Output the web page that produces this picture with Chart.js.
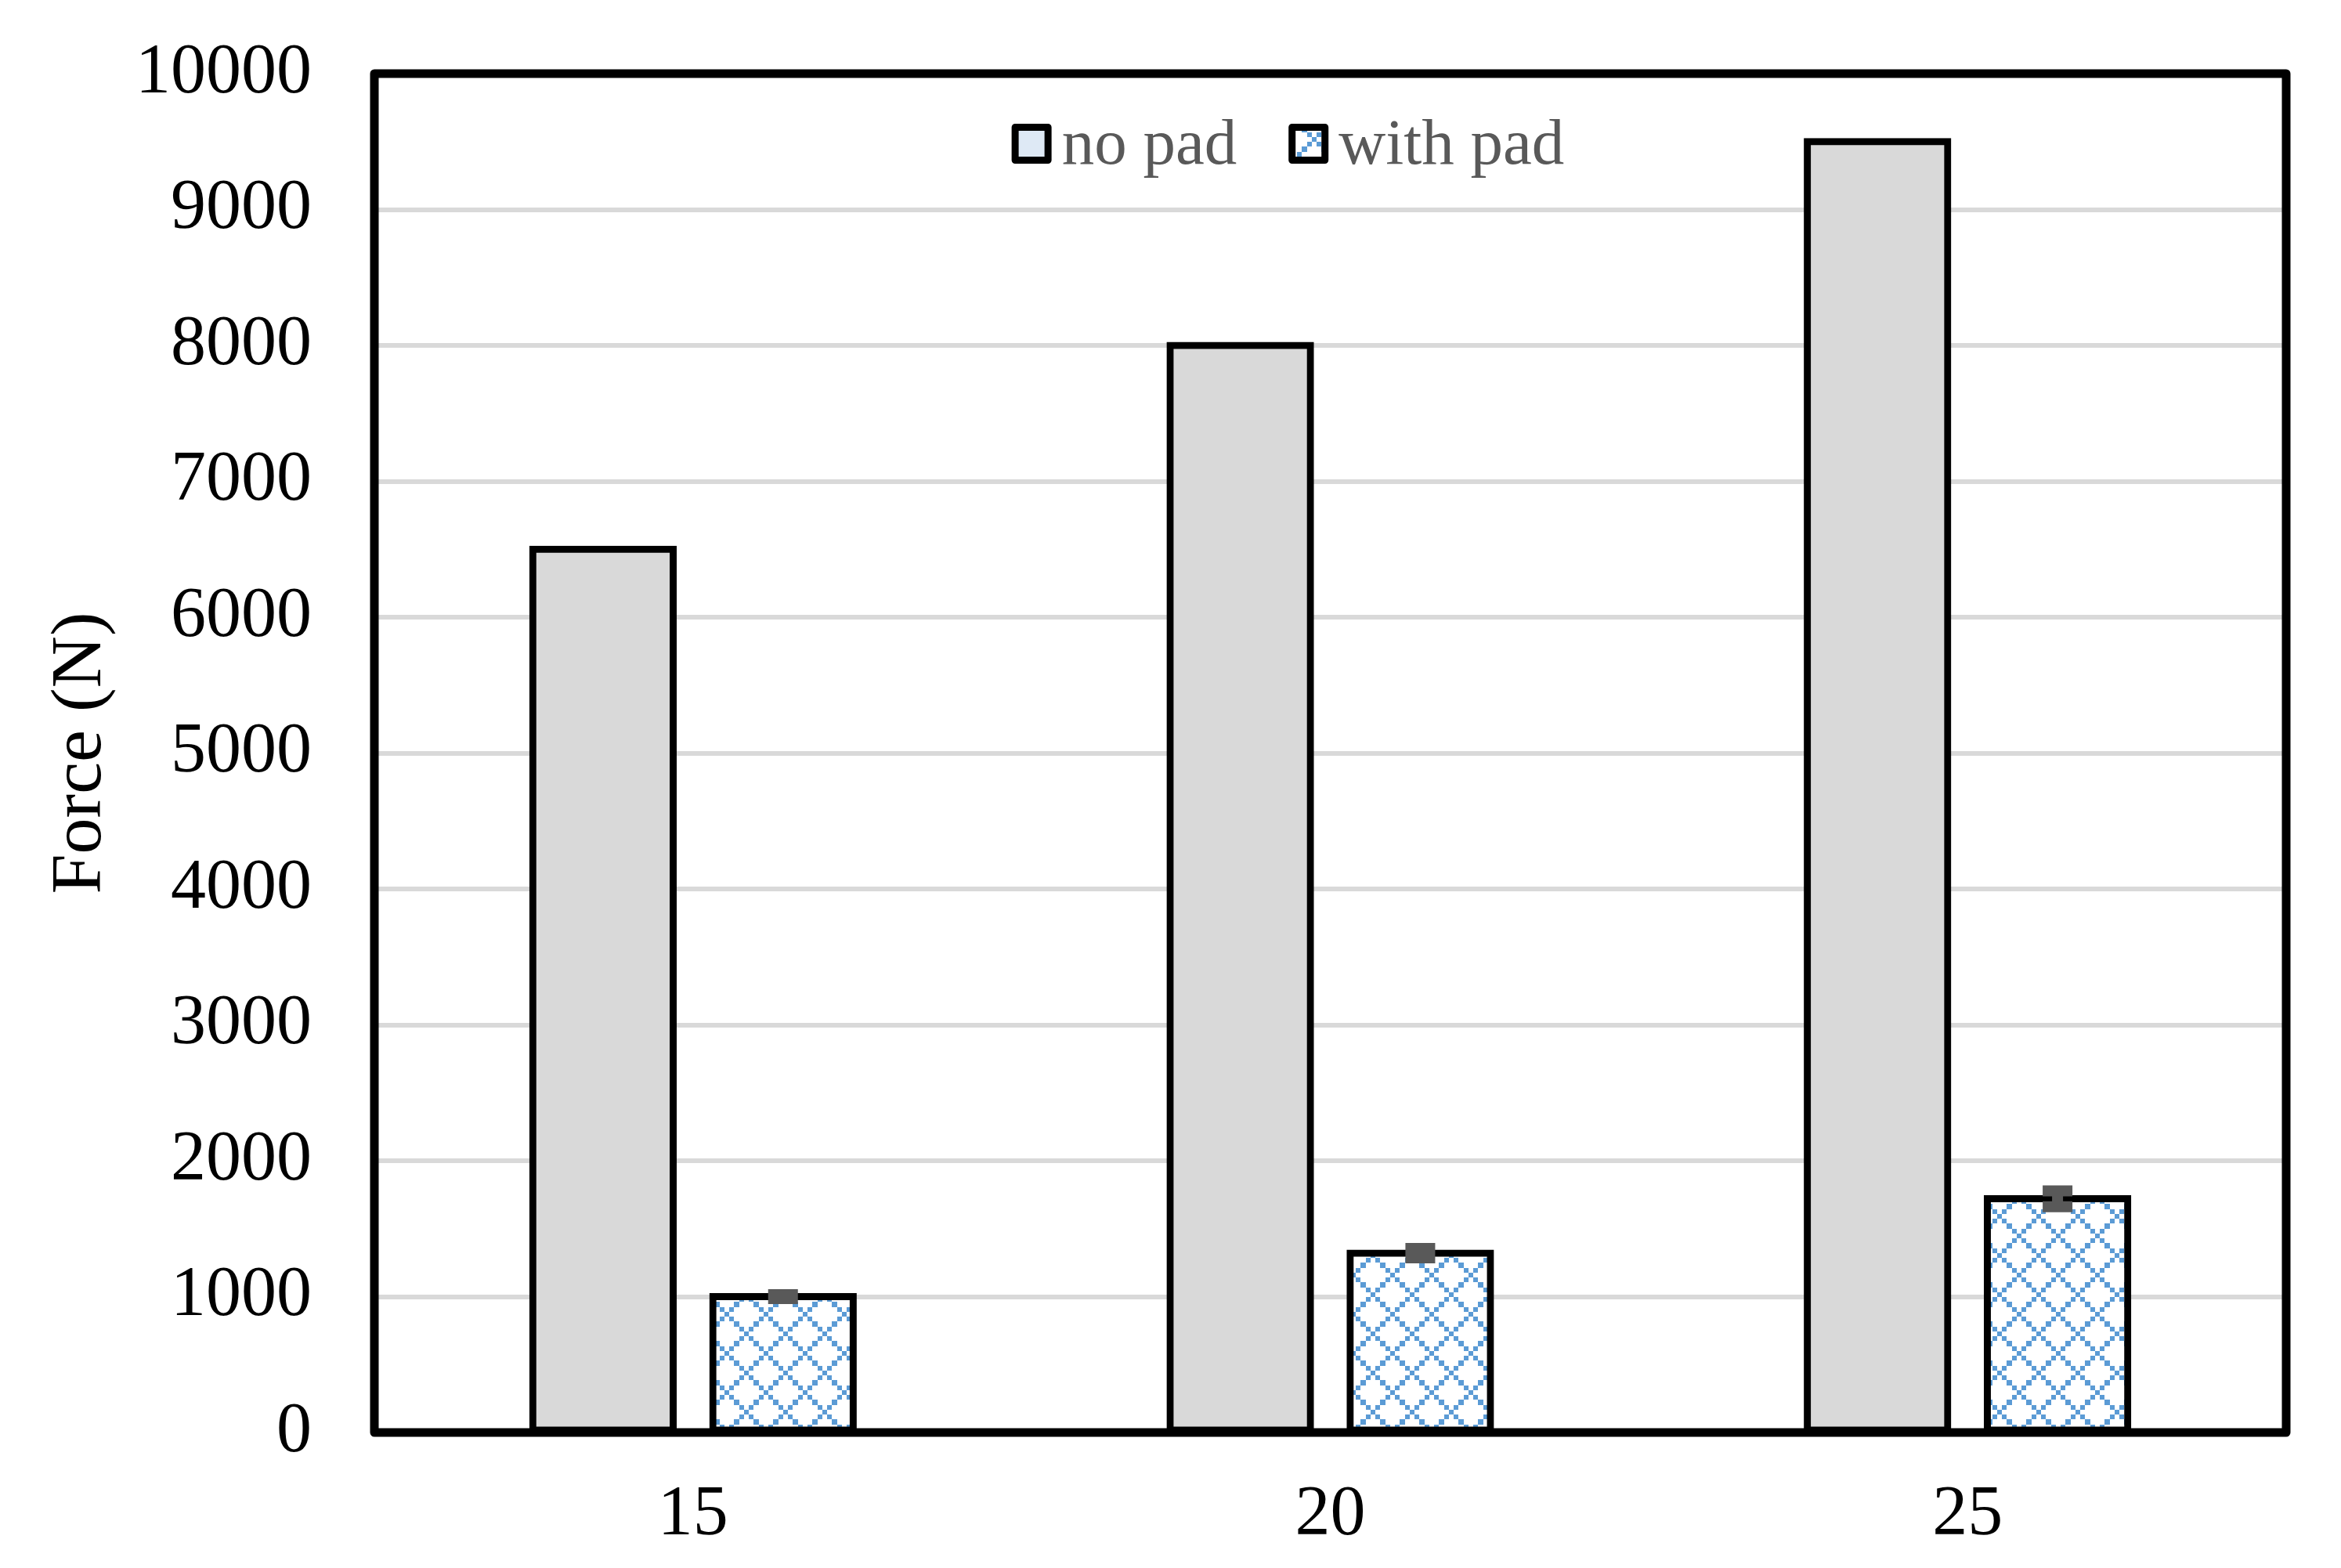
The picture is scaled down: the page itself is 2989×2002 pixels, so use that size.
<!DOCTYPE html>
<html>
<head>
<meta charset="utf-8">
<script src="https://cdn.jsdelivr.net/npm/chart.js@4.4.1/dist/chart.umd.min.js"></script>
<style>
  html, body { margin: 0; padding: 0; background: #fff; }
  #wrap { width: 2989px; height: 2002px; }
</style>
</head>
<body>
<div id="wrap"><canvas id="c" width="2989" height="2002"></canvas></div>
<script>
const categories = ['15', '20', '25'];
const seriesNames = ['no pad', 'with pad'];
const noPad = [6500, 8000, 9500];
const withPad = [1000, 1320, 1720];
const withPadErr = [15, 35, 58];
const yTicks = [0, 1000, 2000, 3000, 4000, 5000, 6000, 7000, 8000, 9000, 10000];

const SERIF = "'Liberation Serif', 'Times New Roman', serif";

function makePattern() {
  const c = document.createElement('canvas');
  c.width = 50; c.height = 50;
  const g = c.getContext('2d');
  g.fillStyle = '#ffffff';
  g.fillRect(0, 0, 50, 50);
  g.fillStyle = '#5b9bd5';
  const pos = [0, 6, 12, 19, 25, 31, 37, 44, 50];
  for (let i = 0; i < 8; i++) {
    const cols = [i, (8 - i) % 8];
    for (const col of cols) {
      g.fillRect(pos[col], pos[i], pos[col + 1] - pos[col], pos[i + 1] - pos[i]);
    }
  }
  return g.createPattern(c, 'repeat');
}
const ctx = document.getElementById('c').getContext('2d');
const pattern = makePattern();
const legendFills = ['#dee9f5', pattern];

const overlay = {
  id: 'overlay',
  afterDatasetsDraw(chart) {
    const c = chart.ctx, ys = chart.scales.y;
    const meta = chart.getDatasetMeta(1);
    c.save();
    c.strokeStyle = '#595959';
    c.lineWidth = 14;
    c.lineCap = 'butt';
    meta.data.forEach((bar, i) => {
      const v = withPad[i], e = withPadErr[i];
      const yt = ys.getPixelForValue(v + e), yb = ys.getPixelForValue(v - e);
      const x = bar.x, hw = 19;
      c.beginPath();
      c.moveTo(x, yt); c.lineTo(x, yb);
      c.moveTo(x - hw, yt); c.lineTo(x + hw, yt);
      c.moveTo(x - hw, yb); c.lineTo(x + hw, yb);
      c.stroke();
    });
    c.restore();
  },
  afterDraw(chart) {
    const a = chart.chartArea, c = chart.ctx;
    c.save();
    c.strokeStyle = '#000';
    c.lineWidth = 11;
    c.lineJoin = 'round';
    c.strokeRect(a.left, a.top, a.right - a.left, a.bottom - a.top);

    // legend inside plot area
    c.font = '83px ' + SERIF;
    const box = 51, gapText = 13, gapItem = 66;
    const labels = chart.data.datasets.map(d => d.label);
    const widths = labels.map(t => c.measureText(t).width);
    let total = 0;
    widths.forEach((w, i) => { total += box + gapText + w + (i < widths.length - 1 ? gapItem : 0); });
    const cx = (a.left + a.right) / 2 - 54;
    let x = cx - total / 2;
    const boxTop = a.top + 64, baseline = boxTop + box;
    labels.forEach((t, i) => {
      c.fillStyle = legendFills[i];
      c.fillRect(x + 4.5, boxTop + 4.5, box - 9, box - 9);
      c.strokeStyle = '#000';
      c.lineWidth = 9;
      c.lineJoin = 'round';
      c.strokeRect(x + 4.5, boxTop + 4.5, box - 9, box - 9);
      c.fillStyle = '#595959';
      c.textBaseline = 'alphabetic';
      c.textAlign = 'left';
      c.fillText(t, x + box + gapText, baseline);
      x += box + gapText + widths[i] + gapItem;
    });
    c.restore();
  }
};

new Chart(ctx, {
  type: 'bar',
  data: {
    labels: categories,
    datasets: [
      {
        label: seriesNames[0],
        data: noPad,
        backgroundColor: '#d9d9d9',
        borderColor: '#000000',
        borderWidth: 9,
        borderSkipped: false,
        inflateAmount: 4.5,
        categoryPercentage: 0.565,
        barPercentage: 0.78
      },
      {
        label: seriesNames[1],
        data: withPad,
        backgroundColor: pattern,
        borderColor: '#000000',
        borderWidth: 9,
        borderSkipped: false,
        inflateAmount: 4.5,
        categoryPercentage: 0.565,
        barPercentage: 0.78
      }
    ]
  },
  options: {
    responsive: false,
    animation: false,
    devicePixelRatio: 1,
    layout: { padding: { top: 94, right: 70, left: 0, bottom: 0 } },
    plugins: {
      tooltip: { enabled: false },
      legend: { display: false }
    },
    scales: {
      x: {
        grid: { display: false, drawTicks: false },
        border: { display: false },
        ticks: {
          color: '#000',
          padding: 52,
          font: { family: SERIF, size: 90 }
        },
        afterFit(s) { s.height = 2002 - 1829; s.paddingLeft = 0; s.paddingRight = 0; }
      },
      y: {
        min: 0,
        max: 10000,
        afterBuildTicks(s) { s.ticks = yTicks.map(v => ({ value: v })); },
        grid: { color: '#d9d9d9', lineWidth: 6, drawTicks: false },
        border: { display: false },
        ticks: {
          color: '#000',
          padding: 80,
          font: { family: SERIF, size: 90 },
          callback: (v) => String(v)
        },
        title: {
          display: true,
          text: 'Force (N)',
          color: '#000',
          padding: { top: 49, bottom: 0 },
          font: { family: SERIF, size: 92 }
        },
        afterFit(s) { s.width = 478; s.paddingTop = 0; s.paddingBottom = 0; }
      }
    }
  },
  plugins: [overlay]
});
</script>
</body>
</html>
